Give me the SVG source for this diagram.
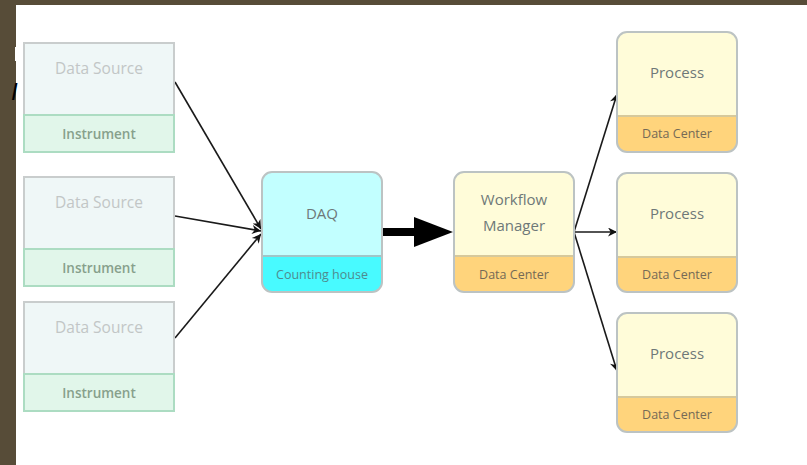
<svg xmlns="http://www.w3.org/2000/svg" width="807" height="465" viewBox="0 0 807 465">
  <style>
    text { font-family: "Open Sans", Lato, "Liberation Sans", sans-serif; text-anchor: middle; }
    .src-top { fill: #eff7f7; stroke: #c9cdcd; stroke-width: 2; }
    .src-bot { fill: #e1f6ea; stroke: #acdcc2; stroke-width: 2; }
    .src-title { fill: #c2c6c6; font-size: 15.5px; }
    .src-sub { fill: #87a08c; font-size: 13.5px; font-weight: 600; }
    .frame { fill: none; stroke: #bcc3c3; stroke-width: 2; }
    .daq-top { fill: #c2ffff; }
    .daq-bot { fill: #48faff; }
    .dc-top { fill: #fffcd9; }
    .dc-bot { fill: #ffd47c; }
    .title { fill: #6e7878; font-size: 15px; }
    .sub { fill: #756a56; font-size: 12.5px; }
    .daq-sub { fill: #4f8a8e; font-size: 12.5px; }
    .edge { stroke: #1a1a1a; stroke-width: 1.6; fill: none; }
  </style>
  <defs>
    <marker id="tip" viewBox="0 0 10 10" refX="10" refY="5" markerWidth="11" markerHeight="9" markerUnits="userSpaceOnUse" orient="auto">
      <path d="M0,0 L10,5 L0,10 L3,5 Z" fill="#111"/>
    </marker>
    <clipPath id="clip-daq"><rect x="262" y="172" width="120" height="120" rx="10"/></clipPath>
    <clipPath id="clip-wm"><rect x="454" y="172" width="120" height="120" rx="10"/></clipPath>
    <clipPath id="clip-p1"><rect x="617" y="32" width="120" height="120" rx="10"/></clipPath>
    <clipPath id="clip-p2"><rect x="617" y="173" width="120" height="119" rx="10"/></clipPath>
    <clipPath id="clip-p3"><rect x="617" y="313" width="120" height="119" rx="10"/></clipPath>
  </defs>

  <!-- page frame -->
  <rect x="0" y="0" width="807" height="465" fill="#574c38"/>
  <rect x="16" y="5" width="791" height="460" fill="#ffffff"/>
  <rect x="15" y="47" width="3" height="14" fill="#ffffff"/>
  <text x="11" y="100" style="font-family: 'Liberation Sans', sans-serif; font-style: italic; font-size: 24px; fill: #000; text-anchor: start;">I</text>

  <!-- connectors -->
  <g id="connectors">
    <line class="edge" x1="175" y1="82" x2="261" y2="229" marker-end="url(#tip)"/>
    <line class="edge" x1="175" y1="216" x2="261" y2="231" marker-end="url(#tip)"/>
    <line class="edge" x1="175" y1="338" x2="261" y2="234" marker-end="url(#tip)"/>
    <line x1="382" y1="232" x2="420" y2="232" stroke="#000" stroke-width="8" stroke-linecap="round"/>
    <path d="M414,217 L453,232 L414,247 Z" fill="#000"/>
    <line class="edge" x1="574" y1="232" x2="617" y2="94" marker-end="url(#tip)"/>
    <line class="edge" x1="574" y1="232" x2="617" y2="232" marker-end="url(#tip)"/>
    <line class="edge" x1="574" y1="232" x2="617" y2="371" marker-end="url(#tip)"/>
  </g>

  <!-- data sources -->
  <g id="source-1">
    <rect class="src-top" x="24" y="43" width="150" height="72"/>
    <rect class="src-bot" x="24" y="115" width="150" height="37"/>
    <text class="src-title" x="99" y="74">Data Source</text>
    <text class="src-sub" x="99" y="139">Instrument</text>
  </g>
  <g id="source-2">
    <rect class="src-top" x="24" y="177" width="150" height="72"/>
    <rect class="src-bot" x="24" y="249" width="150" height="37"/>
    <text class="src-title" x="99" y="208">Data Source</text>
    <text class="src-sub" x="99" y="273">Instrument</text>
  </g>
  <g id="source-3">
    <rect class="src-top" x="24" y="302" width="150" height="72"/>
    <rect class="src-bot" x="24" y="374" width="150" height="37"/>
    <text class="src-title" x="99" y="333">Data Source</text>
    <text class="src-sub" x="99" y="398">Instrument</text>
  </g>

  <!-- DAQ -->
  <g id="daq">
    <g clip-path="url(#clip-daq)">
      <rect class="daq-top" x="262" y="172" width="120" height="84"/>
      <rect class="daq-bot" x="262" y="256" width="120" height="36"/>
      <line x1="262" y1="256" x2="382" y2="256" stroke="#9fc6c8" stroke-width="2"/>
    </g>
    <rect class="frame" x="262" y="172" width="120" height="120" rx="10"/>
    <text class="title" x="322" y="219">DAQ</text>
    <text class="daq-sub" x="322" y="279">Counting house</text>
  </g>

  <!-- workflow manager -->
  <g id="workflow-manager">
    <g clip-path="url(#clip-wm)">
      <rect class="dc-top" x="454" y="172" width="120" height="84"/>
      <rect class="dc-bot" x="454" y="256" width="120" height="36"/>
      <line x1="454" y1="256" x2="574" y2="256" stroke="#d6c99c" stroke-width="2"/>
    </g>
    <rect class="frame" x="454" y="172" width="120" height="120" rx="10"/>
    <text class="title" x="514" y="205">Workflow</text>
    <text class="title" x="514" y="231">Manager</text>
    <text class="sub" x="514" y="279">Data Center</text>
  </g>

  <!-- processes -->
  <g id="process-1">
    <g clip-path="url(#clip-p1)">
      <rect class="dc-top" x="617" y="32" width="120" height="84"/>
      <rect class="dc-bot" x="617" y="116" width="120" height="36"/>
      <line x1="617" y1="116" x2="737" y2="116" stroke="#d6c99c" stroke-width="2"/>
    </g>
    <rect class="frame" x="617" y="32" width="120" height="120" rx="10"/>
    <text class="title" x="677" y="78">Process</text>
    <text class="sub" x="677" y="138">Data Center</text>
  </g>
  <g id="process-2">
    <g clip-path="url(#clip-p2)">
      <rect class="dc-top" x="617" y="173" width="120" height="84"/>
      <rect class="dc-bot" x="617" y="257" width="120" height="35"/>
      <line x1="617" y1="257" x2="737" y2="257" stroke="#d6c99c" stroke-width="2"/>
    </g>
    <rect class="frame" x="617" y="173" width="120" height="119" rx="10"/>
    <text class="title" x="677" y="219">Process</text>
    <text class="sub" x="677" y="279">Data Center</text>
  </g>
  <g id="process-3">
    <g clip-path="url(#clip-p3)">
      <rect class="dc-top" x="617" y="313" width="120" height="84"/>
      <rect class="dc-bot" x="617" y="397" width="120" height="35"/>
      <line x1="617" y1="397" x2="737" y2="397" stroke="#d6c99c" stroke-width="2"/>
    </g>
    <rect class="frame" x="617" y="313" width="120" height="119" rx="10"/>
    <text class="title" x="677" y="359">Process</text>
    <text class="sub" x="677" y="419">Data Center</text>
  </g>
</svg>
